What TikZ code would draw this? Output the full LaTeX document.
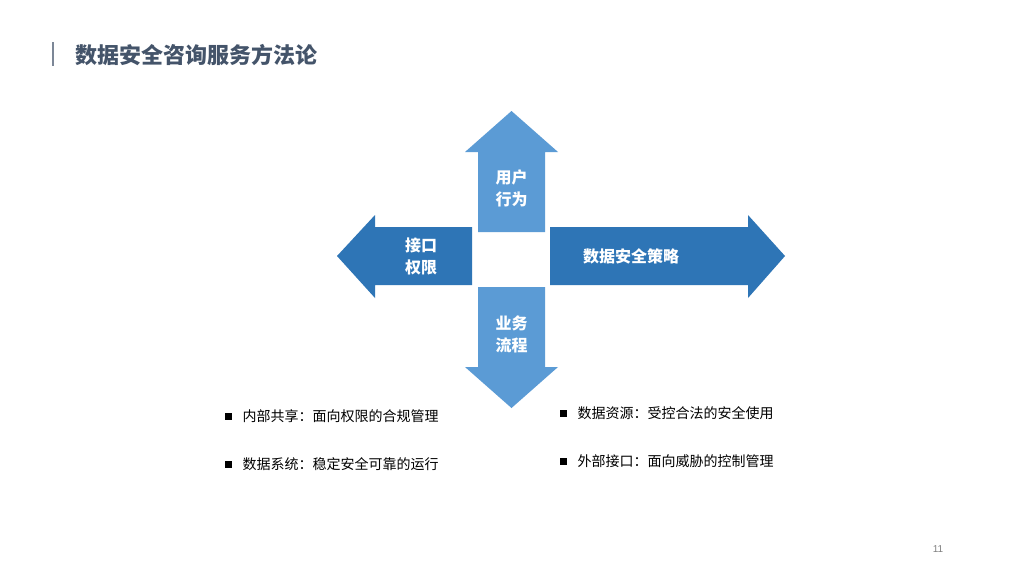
\documentclass[tikz,border=0pt]{standalone}
\usepackage{fontspec}
\newfontfamily\cjk{Noto Sans CJK SC}
\newfontfamily\cjkb{Noto Sans CJK SC Bold}
\setmainfont{Liberation Sans}
\definecolor{light}{HTML}{5B9BD5}
\definecolor{dark}{HTML}{2E75B6}
\definecolor{ttl}{HTML}{44546A}
\begin{document}
\begin{tikzpicture}[x=1pt,y=-1pt,
  lbl/.style={text=white,font=\cjk\bfseries\fontsize{16}{22}\selectfont,align=center},
  item/.style={anchor=west,font=\cjk\fontsize{14}{16}\selectfont},
  sq/.style={fill=black,minimum size=7pt,inner sep=0pt}]
\useasboundingbox (0,0) rectangle (1024,576);
\fill[white] (0,0) rectangle (1024,576);
\draw[ttl!70,line width=2pt] (53,42) -- (53,66);
\node[anchor=west,text=ttl,font=\cjk\bfseries\fontsize{22}{26}\selectfont] (title) at (72,55) {数据安全咨询服务方法论};
% arrows
\fill[light] (478,232) -- (478,152) -- (465,152) -- (511.5,111) -- (558,152) -- (545,152) -- (545,232) -- cycle;
\fill[light] (478,287) -- (478,367) -- (465,367) -- (511.5,408) -- (558,367) -- (545,367) -- (545,287) -- cycle;
\fill[dark] (472,227) -- (375,227) -- (375,215) -- (337,256) -- (375,298) -- (375,285) -- (472,285) -- cycle;
\fill[dark] (550,227) -- (748,227) -- (748,215) -- (785,256) -- (748,298) -- (748,285) -- (550,285) -- cycle;
\node[lbl] (up) at (511.5,188) {用户\\行为};
\node[lbl] (dn) at (511.5,334) {业务\\流程};
\node[lbl] (lf) at (421,256) {接口\\权限};
\node[lbl] (rt) at (631,256) {数据安全策略};
% bullets
\node[sq] (b1) at (228,416) {};
\node[item] (t1) at (239,416) {内部共享：面向权限的合规管理};
\node[sq] (b2) at (228,464) {};
\node[item] (t2) at (239,464) {数据系统：稳定安全可靠的运行};
\node[sq] (b3) at (563,413) {};
\node[item] (t3) at (574,413) {数据资源：受控合法的安全使用};
\node[sq] (b4) at (563,461) {};
\node[item] (t4) at (574,461) {外部接口：面向威胁的控制管理};
\node[text=gray,font=\fontsize{10}{12}\selectfont] (pg) at (938,549) {11};
\end{tikzpicture}
\end{document}
